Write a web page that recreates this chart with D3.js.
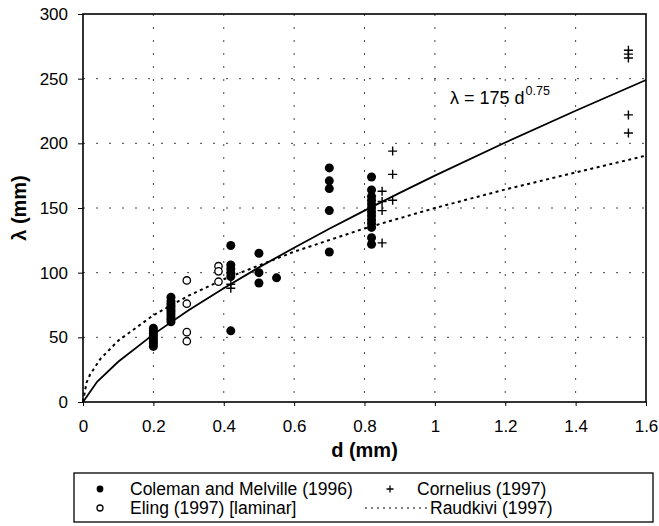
<!DOCTYPE html>
<html>
	<head>
		<meta http-equiv="Content-Type" content="text/html;charset=utf-8"/>
		<title>Ripple length vs grain size</title>
		<script src="https://d3js.org/d3.v7.min.js"></script>
		<style type="text/css">
			body { margin: 0; background: #fff; }
			svg { font-family: "Liberation Sans", Arial, sans-serif; }
			.grid line { stroke: #444; stroke-width: 1; stroke-dasharray: 2,11; }
			.axis path, .axis line { stroke: #000; }
			.axis text { font-size: 17px; fill: #000; }
			.title { font-size: 20px; font-weight: bold; }
		</style>
	</head>
	<body>
		<script type="text/javascript">

			//Measured points, grain size d (mm) and ripple length (mm)
			var colemanD = [0.2,0.2,0.2,0.2,0.2,0.2,0.2,0.2,
				0.25,0.25,0.25,0.25,0.25,0.25,0.25,0.25,0.25,0.25,
				0.42,0.42,0.42,0.42,0.42,0.42,
				0.5,0.5,0.5, 0.55,
				0.7,0.7,0.7,0.7,0.7,
				0.82,0.82,0.82,0.82,0.82,0.82,0.82,0.82,0.82,0.82,0.82,0.82,0.82];
			var colemanL = [43,45,47,49,51,53,55,57,
				62,64,66,68,70,72,74,76,78,81,
				121,106,103,100,97,55,
				115,100,92, 96,
				181,171,165,148,116,
				174,164,159,156,153,150,147,144,141,138,135,127,122];

			var elingD = [0.295,0.295,0.295,0.295, 0.385,0.385,0.385];
			var elingL = [94,76,54,47, 105,101,93];

			var corneliusD = [0.42,0.42, 0.85,0.85,0.85,0.85, 0.88,0.88,0.88, 1.55,1.55,1.55,1.55,1.55];
			var corneliusL = [91,88, 163,155,148,123, 194,176,156, 272,269,266,222,208];

			//Fitted curve, lambda = 175 d^0.75
			var fitD = [0, 0.04, 0.1, 0.2, 0.3, 0.4, 0.5, 0.6, 0.7, 0.8, 0.9, 1.0, 1.2, 1.4, 1.6];
			var fitL = [0, 15.6, 31.1, 52.3, 70.9, 88.0, 104.1, 119.3, 133.9, 148.0, 161.7, 175, 200.6, 225.2, 249.0];

			//Raudkivi (1997) curve
			var raudD = [0, 0.01, 0.02, 0.05, 0.1, 0.2, 0.3, 0.4, 0.6, 0.8, 1.0, 1.2, 1.4, 1.6];
			var raudL = [0, 15, 21.2, 33.5, 47.4, 67.1, 82.2, 94.9, 116.2, 134.2, 150, 164.3, 177.5, 190.5];

			var xTicks = [0, 0.2, 0.4, 0.6, 0.8, 1, 1.2, 1.4, 1.6];
			var yTicks = [0, 50, 100, 150, 200, 250, 300];

			var legendItems = ["Coleman and Melville (1996)", "Cornelius (1997)", "Eling (1997) [laminar]", "Raudkivi (1997)"];


			//Size and plot frame
			var w = 659,
				h = 526,
				pLeft = 83,
				pRight = 646,
				pTop = 14,
				pBottom = 402;

			var xScale = d3.scaleLinear().domain([0, 1.6]).range([pLeft, pRight]);
			var yScale = d3.scaleLinear().domain([0, 300]).range([pBottom, pTop]);

			var svg = d3.select("body").append("svg")
						.attr("width", w)
						.attr("height", h);


			//Dotted grid
			var grid = svg.append("g").attr("class", "grid");

			grid.selectAll("line.v")
				.data(xTicks.slice(1, -1))
				.enter()
				.append("line")
				.attr("class", "v")
				.attr("x1", function(d) { return xScale(d); })
				.attr("x2", function(d) { return xScale(d); })
				.attr("y1", pTop)
				.attr("y2", pBottom);

			grid.selectAll("line.h")
				.data(yTicks.slice(1, -1))
				.enter()
				.append("line")
				.attr("class", "h")
				.attr("x1", pLeft)
				.attr("x2", pRight)
				.attr("y1", function(d) { return yScale(d); })
				.attr("y2", function(d) { return yScale(d); });


			//Axes
			svg.append("g")
				.attr("class", "axis")
				.attr("transform", "translate(0," + pBottom + ")")
				.call(d3.axisBottom(xScale).tickValues(xTicks).tickSize(4).tickPadding(14).tickFormat(d3.format("")))
				.call(function(g) { g.select(".domain").remove(); });

			svg.append("g")
				.attr("class", "axis")
				.attr("transform", "translate(" + pLeft + ",0)")
				.call(d3.axisLeft(yScale).tickValues(yTicks).tickSize(5).tickPadding(10))
				.call(function(g) { g.select(".domain").remove(); });

			//Frame
			svg.append("rect")
				.attr("x", pLeft)
				.attr("y", pTop)
				.attr("width", pRight - pLeft)
				.attr("height", pBottom - pTop)
				.attr("fill", "none")
				.attr("stroke", "#000")
				.attr("stroke-width", 1.6);


			//Curves
			var line = d3.line()
				.x(function(d) { return xScale(d[0]); })
				.y(function(d) { return yScale(d[1]); });

			svg.append("path")
				.datum(d3.zip(raudD, raudL))
				.attr("d", line)
				.attr("fill", "none")
				.attr("stroke", "#000")
				.attr("stroke-width", 2)
				.attr("stroke-dasharray", "3,3.5");

			svg.append("path")
				.datum(d3.zip(fitD, fitL))
				.attr("d", line)
				.attr("fill", "none")
				.attr("stroke", "#000")
				.attr("stroke-width", 1.8);


			//Points
			svg.append("g")
				.selectAll("circle")
				.data(d3.zip(colemanD, colemanL))
				.enter()
				.append("circle")
				.attr("cx", function(d) { return xScale(d[0]); })
				.attr("cy", function(d) { return yScale(d[1]); })
				.attr("r", 4.5)
				.attr("fill", "#000");

			svg.append("g")
				.selectAll("circle")
				.data(d3.zip(elingD, elingL))
				.enter()
				.append("circle")
				.attr("cx", function(d) { return xScale(d[0]); })
				.attr("cy", function(d) { return yScale(d[1]); })
				.attr("r", 3.7)
				.attr("fill", "#fff")
				.attr("stroke", "#000")
				.attr("stroke-width", 1.3);

			var plus = "M-4.5,0H4.5M0,-4.5V4.5";
			svg.append("g")
				.selectAll("path")
				.data(d3.zip(corneliusD, corneliusL))
				.enter()
				.append("path")
				.attr("transform", function(d) { return "translate(" + xScale(d[0]) + "," + yScale(d[1]) + ")"; })
				.attr("d", plus)
				.attr("stroke", "#000")
				.attr("stroke-width", 1.4);


			//Equation label
			var eq = svg.append("text")
				.attr("x", 450)
				.attr("y", 104)
				.attr("font-size", 18);
			eq.append("tspan").text("λ = 175 d");
			eq.append("tspan").attr("dx", 1).attr("dy", -9).attr("font-size", 12.5).text("0.75");


			//Axis titles
			svg.append("text")
				.attr("class", "title")
				.attr("x", (pLeft + pRight) / 2)
				.attr("y", 457)
				.attr("text-anchor", "middle")
				.text("d (mm)");

			svg.append("text")
				.attr("class", "title")
				.attr("transform", "translate(26," + ((pTop + pBottom) / 2) + ") rotate(-90)")
				.attr("text-anchor", "middle")
				.text("λ (mm)");


			//Legend
			var lg = svg.append("g");
			lg.append("rect")
				.attr("x", 74)
				.attr("y", 473)
				.attr("width", 579)
				.attr("height", 49)
				.attr("fill", "none")
				.attr("stroke", "#000")
				.attr("stroke-width", 1.3);

			lg.append("circle").attr("cx", 100).attr("cy", 489).attr("r", 3.4).attr("fill", "#000");
			lg.append("circle").attr("cx", 100).attr("cy", 508).attr("r", 3).attr("fill", "none").attr("stroke", "#000").attr("stroke-width", 1.3);
			lg.append("path").attr("transform", "translate(390,489)").attr("d", "M-3.5,0H3.5M0,-3.5V3.5").attr("stroke", "#000").attr("stroke-width", 1.3);
			lg.append("line").attr("x1", 365).attr("x2", 428).attr("y1", 508).attr("y2", 508)
				.attr("stroke", "#000").attr("stroke-width", 1).attr("stroke-dasharray", "2,4");

			var lpos = [[130, 495], [417, 495], [130, 514], [430, 514]];
			lg.selectAll("text")
				.data(legendItems)
				.enter()
				.append("text")
				.attr("x", function(d, i) { return lpos[i][0]; })
				.attr("y", function(d, i) { return lpos[i][1]; })
				.attr("font-size", 17.5)
				.text(function(d) { return d; });

		</script>
	</body>
</html>
